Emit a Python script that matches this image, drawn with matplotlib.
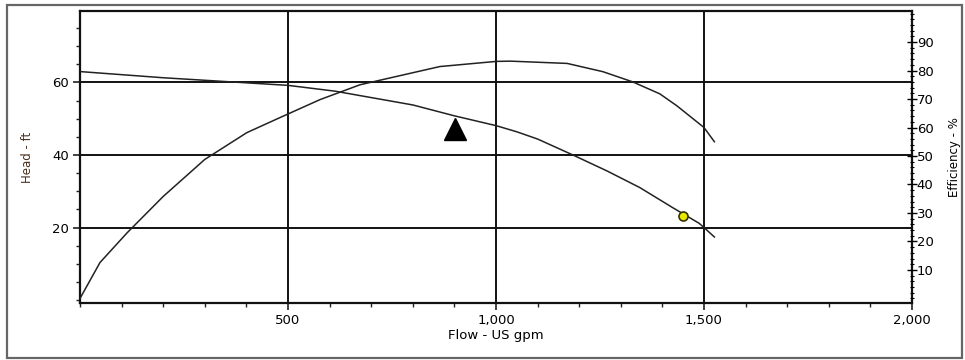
import matplotlib
matplotlib.use('Agg')
import matplotlib.pyplot as plt
from matplotlib.ticker import MultipleLocator, FuncFormatter
from matplotlib.patches import Rectangle

# Head curve (flow in US gpm, head in ft)
flow_head = [0, 200, 300, 500, 613, 800, 900, 1000, 1050, 1100, 1185, 1267, 1346, 1426, 1488, 1500, 1525]
head = [63.0, 61.3, 60.6, 59.2, 57.6, 53.8, 50.8, 48.1, 46.4, 44.4, 40.0, 35.6, 31.0, 25.4, 21.2, 20.0, 17.4]

# Efficiency curve (flow in US gpm, efficiency in %)
flow_eff = [0, 48, 113, 200, 300, 401, 481, 577, 673, 865, 1000, 1034, 1171, 1257, 1329, 1394, 1435, 1500, 1525]
eff = [0, 12.6, 23.0, 35.8, 48.8, 58.2, 63.5, 69.8, 75.0, 81.4, 83.2, 83.3, 82.5, 79.6, 76.0, 71.8, 67.6, 60.0, 55.0]

# Markers
duty_flow, duty_head = [901], [47.3]
op_flow, op_head = [1450], [23.2]

plt.rcParams['font.family'] = ['DejaVu Sans']
plt.rcParams['font.size'] = 9.5

fig = plt.figure(figsize=(9.65, 3.6), dpi=100)
ax = fig.add_axes([80/965, 1 - 303/360, 832/965, 292/360])

# outer frame around the whole chart
fig.patches.append(Rectangle((7/965, 2/360), 955/965, 353/360, transform=fig.transFigure,
                             fill=False, lw=1.6, edgecolor='#666666'))

ax.plot(flow_head, head, color='#222222', lw=1.1, zorder=3)
ax.plot(duty_flow, duty_head, marker='^', ms=16.5, color='black', ls='none', zorder=4)
ax.plot(op_flow, op_head, marker='o', ms=6.5, mfc='#e8e800', mec='#333300', mew=1.2, ls='none', zorder=5)

ax.set_xlim(0, 2000)
ax.set_ylim(-0.8, 79.7)
ax.set_xticks([500, 1000, 1500, 2000])
ax.xaxis.set_minor_locator(MultipleLocator(100))
ax.xaxis.set_major_formatter(FuncFormatter(lambda v, p: f'{int(v):,}'))
ax.set_yticks([20, 40, 60])
ax.yaxis.set_minor_locator(MultipleLocator(5))
ax.tick_params(axis='both', which='major', length=5, width=1.2, color='#222222', pad=3)
ax.tick_params(axis='both', which='minor', length=3, width=1.0, color='#222222')

ax.grid(True, which='major', color='#111111', lw=1.4)
ax.set_axisbelow(True)
for s in ax.spines.values():
    s.set_linewidth(1.6)
    s.set_color('#111111')

ax.set_xlabel('Flow - US gpm', labelpad=1)
ax.set_ylabel('Head - ft', color='#4a3020', fontsize=8.5)
ax.yaxis.set_label_coords(-0.055, 0.5)

# efficiency on the right axis
ax2 = ax.twinx()
ax2.plot(flow_eff, eff, color='#222222', lw=1.1, zorder=3)
ax2.set_ylim(-1.6, 100.9)
ax2.set_yticks([10, 20, 30, 40, 50, 60, 70, 80, 90])
ax2.yaxis.set_minor_locator(MultipleLocator(2))
ax2.tick_params(axis='y', which='major', direction='inout', length=7, width=1.0, pad=0)
ax2.tick_params(axis='y', which='minor', direction='inout', length=3, width=0.8)
for s in ax2.spines.values():
    s.set_visible(False)
ax2.set_ylabel('Efficiency - %', fontsize=8.5)
ax2.yaxis.set_label_coords(1.043, 0.5)

fig.savefig('out.png', dpi=100)
